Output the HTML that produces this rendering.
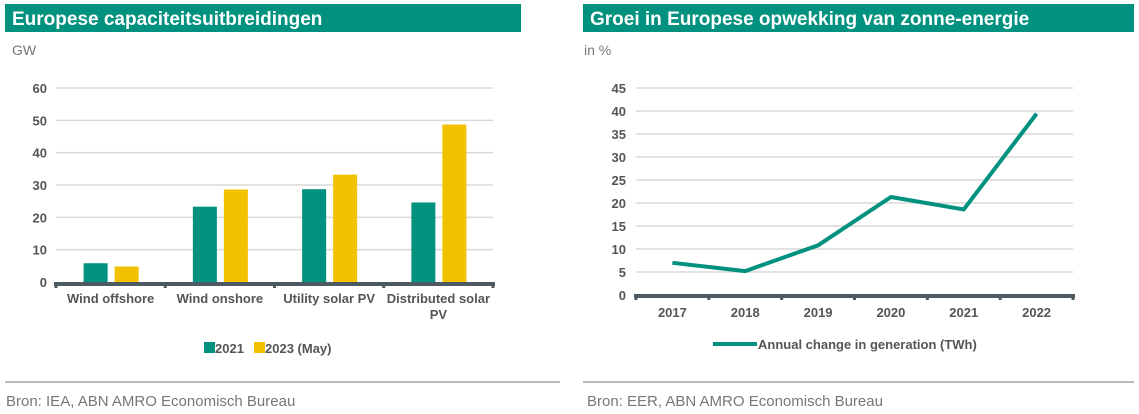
<!DOCTYPE html>
<html><head><meta charset="utf-8"><style>
body{margin:0;width:1139px;height:414px;background:#fff;font-family:"Liberation Sans",Arial,sans-serif;overflow:hidden}
svg{position:absolute;left:0;top:0}
</style></head><body>
<svg width="1139" height="414">
<rect x="5" y="4" width="516" height="28" fill="#00917f"/>
<text x="12" y="25" font-size="19" font-weight="bold" fill="#fff">Europese capaciteitsuitbreidingen</text>
<text x="12" y="55" font-size="14" fill="#777">GW</text>
<rect x="583" y="4" width="551" height="28" fill="#00917f"/>
<text x="590" y="25" font-size="19" font-weight="bold" fill="#fff">Groei in Europese opwekking van zonne-energie</text>
<text x="584" y="55" font-size="14" fill="#777">in %</text>
<line x1="5" y1="382" x2="560" y2="382" stroke="#bbb" stroke-width="2"/>
<text x="6" y="406" font-size="15" fill="#777">Bron: IEA, ABN AMRO Economisch Bureau</text>
<line x1="583" y1="382" x2="1134" y2="382" stroke="#bbb" stroke-width="2"/>
<text x="587" y="406" font-size="15" fill="#777">Bron: EER, ABN AMRO Economisch Bureau</text>
<g id="left"></g><g id="right"></g>
</svg>
<script>
const barCats=[["Wind offshore"],["Wind onshore"],["Utility solar PV"],["Distributed solar","PV"]];
const s2021=[5.8,23.3,28.7,24.6];
const s2023=[4.8,28.6,33.2,48.7];
const barTicks=[0,10,20,30,40,50,60];
const lineCats=["2017","2018","2019","2020","2021","2022"];
const lineVals=[7,5.2,10.8,21.3,18.6,39.4];
const lineTicks=[0,5,10,15,20,25,30,35,40,45];
const NS="http://www.w3.org/2000/svg";
function mk(p,t,a){const e=document.createElementNS(NS,t);for(const k in a)e.setAttribute(k,a[k]);p.appendChild(e);return e;}
// left
const L=document.getElementById('left');
const lx0=56,lx1=493,ly0=282,ly1=88;
const ly=v=>ly0-(v/60)*(ly0-ly1);
const cw=(lx1-lx0)/barCats.length;
barTicks.forEach(t=>{
 if(t>0){const g=mk(L,'line',{x1:lx0,x2:lx1,y1:ly(t),y2:ly(t),stroke:'#d9d9d9','stroke-width':1.5});
 
 }
 const tx=mk(L,'text',{x:47,y:ly(t)+5,'font-size':13,'font-weight':'bold',fill:'#555','text-anchor':'end'});tx.textContent=t;
 
 
});
barCats.forEach((c,i)=>{
 const cx=lx0+cw*(i+0.5);
 const b1=mk(L,'rect',{x:cx-27,y:ly(s2021[i]),width:24,height:ly0-ly(s2021[i]),fill:'#00917f'});
 
 
 const b2=mk(L,'rect',{x:cx+4,y:ly(s2023[i]),width:24,height:ly0-ly(s2023[i]),fill:'#f2c100'});
 
 
 c.forEach((ln,j)=>{const t=mk(L,'text',{x:cx,y:303+j*16,'font-size':13,'font-weight':'bold',fill:'#555','text-anchor':'middle'});t.textContent=ln;
 
 });
});
const la=mk(L,'line',{x1:lx0-2,x2:lx1+2,y1:ly0+2,y2:ly0+2,stroke:'#4d5a61','stroke-width':4});


for(let i=0;i<=barCats.length;i++){const tk=mk(L,'rect',{x:lx0+cw*i-1.5,y:ly0+2,width:3,height:4,fill:'#4d5a61'});
 
 }
const lg1=mk(L,'rect',{x:204,y:342,width:11,height:11,fill:'#00917f'});
const lt1=mk(L,'text',{x:215,y:353,'font-size':13,'font-weight':'bold',fill:'#555'});lt1.textContent='2021';
const lg2=mk(L,'rect',{x:254,y:342,width:11,height:11,fill:'#f2c100'});
const lt2=mk(L,'text',{x:265,y:353,'font-size':13,'font-weight':'bold',fill:'#555'});lt2.textContent='2023 (May)';
// right
const R=document.getElementById('right');
const rx0=636,rx1=1073,ry0=295,ry1=88;
const ry=v=>ry0-(v/45)*(ry0-ry1);
const rw=(rx1-rx0)/lineCats.length;
lineTicks.forEach(t=>{
 if(t>0){const g=mk(R,'line',{x1:rx0,x2:rx1,y1:ry(t),y2:ry(t),stroke:'#d9d9d9','stroke-width':1.5});
 
 }
 const tx=mk(R,'text',{x:626,y:ry(t)+5,'font-size':13,'font-weight':'bold',fill:'#555','text-anchor':'end'});tx.textContent=t;
 
 
});
const ra=mk(R,'line',{x1:rx0-2,x2:rx1+2,y1:ry0+1,y2:ry0+1,stroke:'#4d5a61','stroke-width':4});


for(let i=0;i<=lineCats.length;i++){const tk=mk(R,'rect',{x:rx0+rw*i-1.5,y:ry0+1,width:3,height:4,fill:'#4d5a61'});
 
 }
lineCats.forEach((c,i)=>{const t=mk(R,'text',{x:rx0+rw*(i+0.5),y:317,'font-size':13,'font-weight':'bold',fill:'#555','text-anchor':'middle'});t.textContent=c;
 
 });
const pts=lineVals.map((v,i)=>(rx0+rw*(i+0.5))+','+ry(v)).join(' ');
const pl=mk(R,'polyline',{points:pts,fill:'none',stroke:'#00917f','stroke-width':4,'stroke-linejoin':'round'});


const rl=mk(R,'line',{x1:713,x2:757,y1:344,y2:344,stroke:'#00917f','stroke-width':4});


const rt=mk(R,'text',{x:758,y:349,'font-size':13,'font-weight':'bold',fill:'#555'});rt.textContent='Annual change in generation (TWh)';


</script>
</body></html>
